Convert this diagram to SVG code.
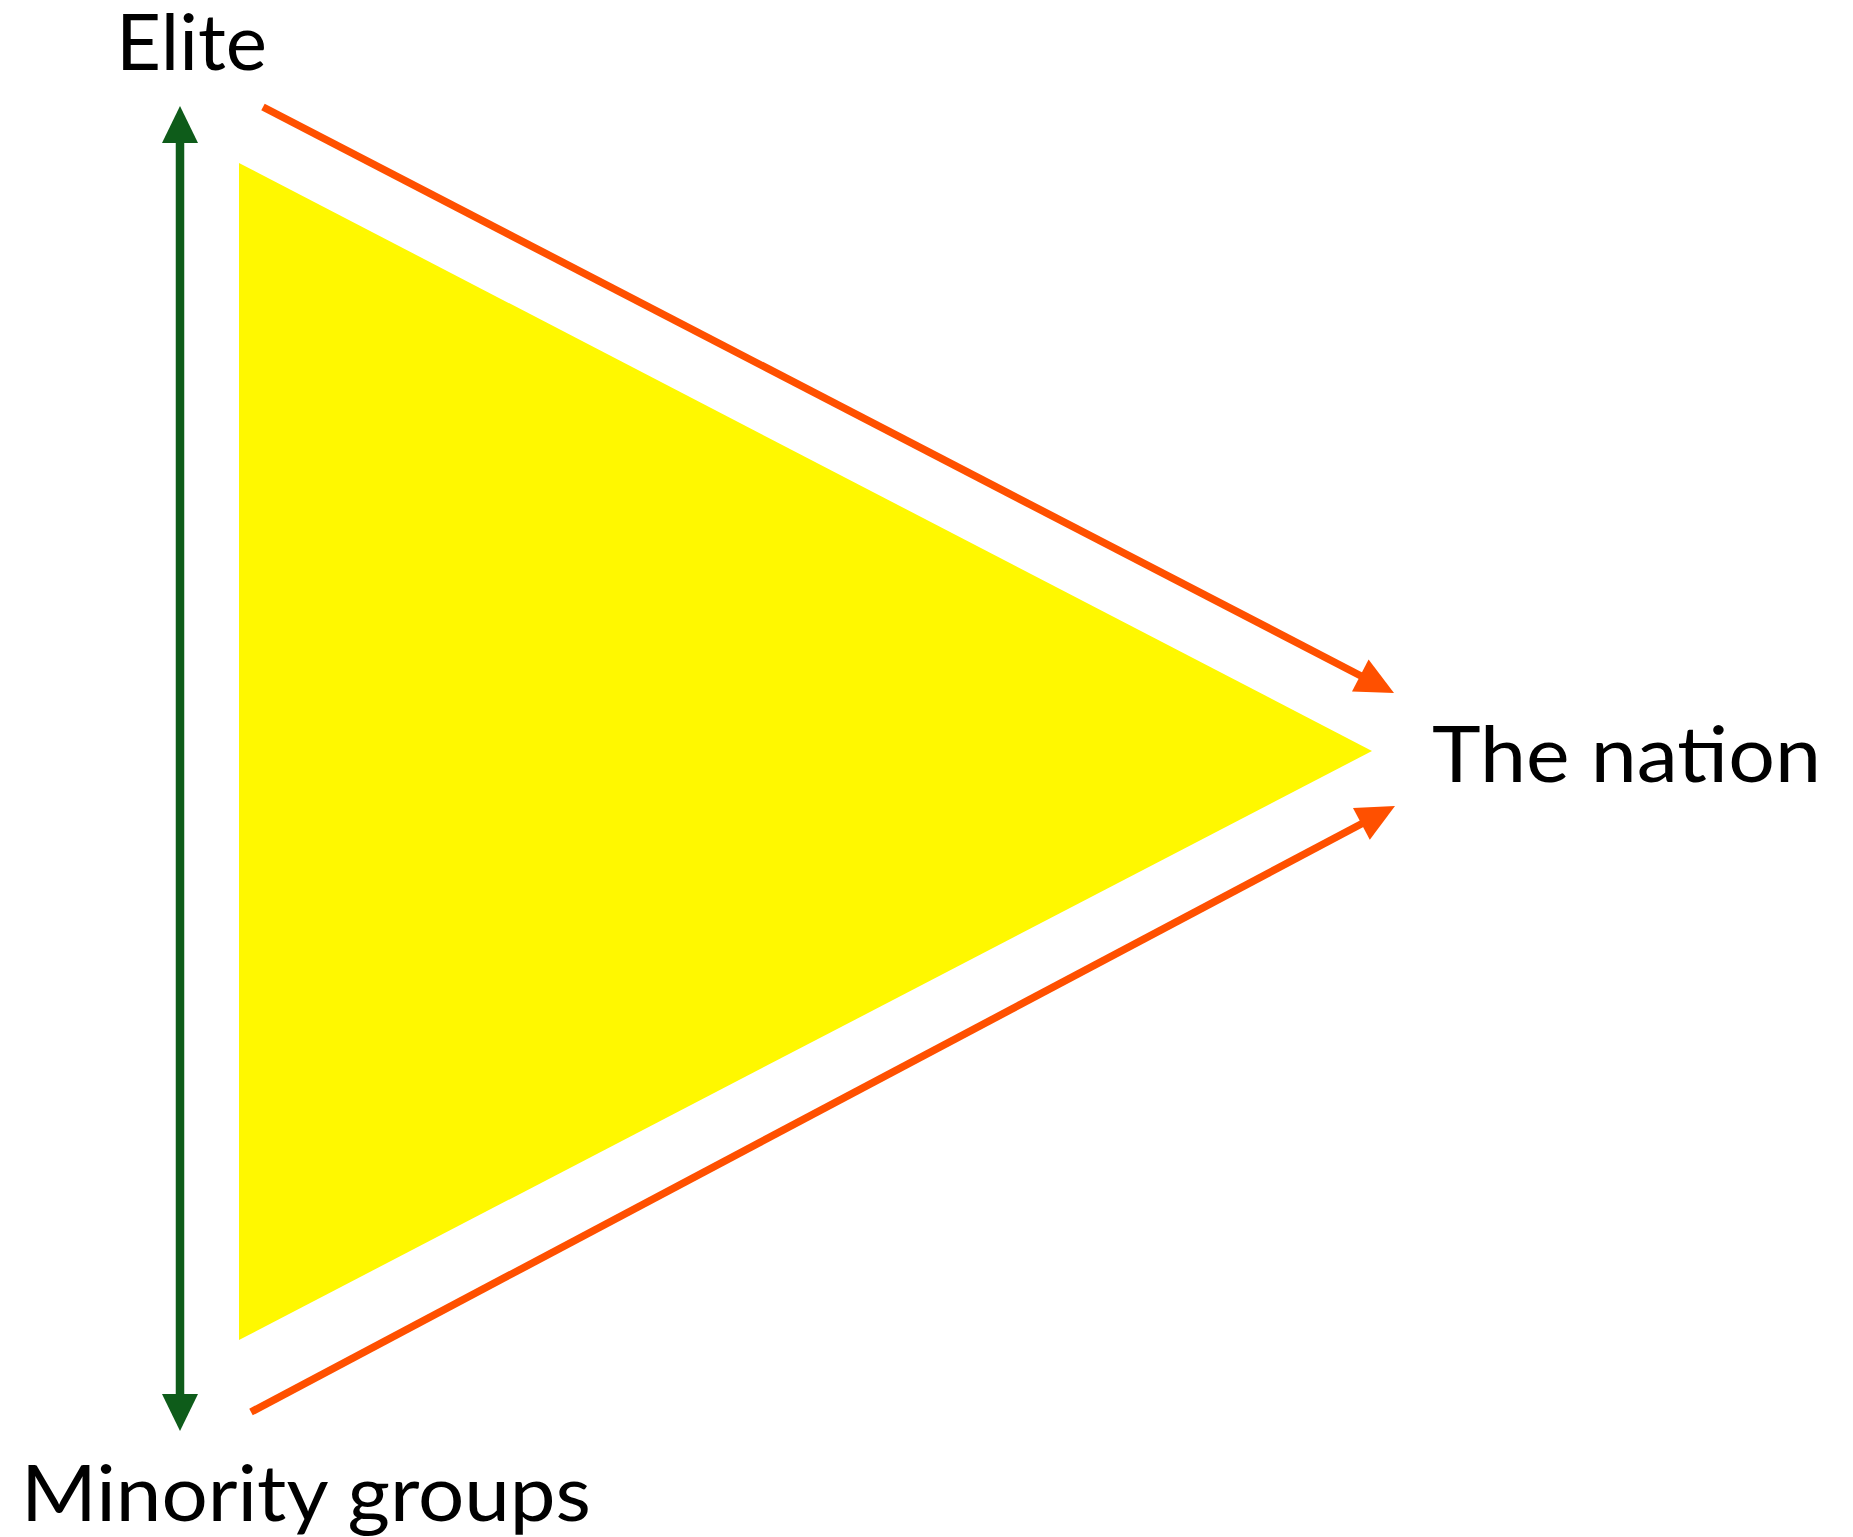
<svg xmlns="http://www.w3.org/2000/svg" width="1853" height="1537" viewBox="0 0 1853 1537">
<style>
.lbl{font-family:Lato,"Noto Sans","Liberation Sans",sans-serif;font-size:78px;fill:#000}
.or{stroke:#ff5000;stroke-width:7.5;fill:none}
.orh{fill:#ff5000}
.gr{stroke:#0e5c1a;stroke-width:8.5;fill:none}
.grh{fill:#0e5c1a}
</style>
<rect width="1853" height="1537" fill="#fff"/>
<g id="triangle">
<polygon points="239,163 1372,751 239,1340" fill="#fff800"/>
</g>
<g id="connectors">
<line class="gr" x1="180" y1="140" x2="180" y2="1397"/>
<polygon class="grh" points="180,106 198,143 162,143"/>
<polygon class="grh" points="180,1431 198,1394 162,1394"/>
<line class="or" x1="263" y1="107" x2="1363" y2="677"/>
<polygon class="orh" points="1394,693 1352,691.5 1368.6,659.5"/>
<line class="or" x1="251" y1="1412" x2="1364" y2="822.5"/>
<polygon class="orh" points="1395,806 1369.8,839.7 1353,807.9"/>
</g>
<g id="elite">
<text class="lbl" x="116" y="70" textLength="151" lengthAdjust="spacingAndGlyphs">Elite</text>
</g>
<g id="nation">
<text class="lbl" x="1432" y="782" textLength="389" lengthAdjust="spacingAndGlyphs">The nation</text>
</g>
<g id="minority">
<text class="lbl" x="21" y="1521" textLength="570" lengthAdjust="spacingAndGlyphs">Minority groups</text>
</g>
</svg>
